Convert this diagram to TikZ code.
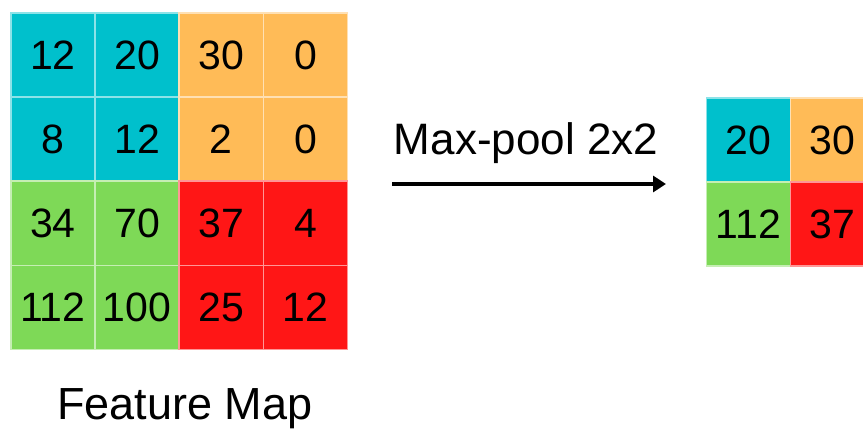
\documentclass[tikz,border=0pt]{standalone}
\usepackage{fontspec}
\setmainfont{Liberation Sans}
\usetikzlibrary{arrows.meta}
\definecolor{cyanc}{RGB}{0,192,204}
\definecolor{orangec}{RGB}{255,187,87}
\definecolor{greenc}{RGB}{126,217,87}
\definecolor{redc}{RGB}{255,22,22}
\tikzset{
  cell/.style={rectangle, minimum width=84.2pt, minimum height=84.2pt, inner sep=0pt, anchor=north west, line width=1.6pt, font=\fontsize{41}{41}\selectfont},
  cc/.style={cell, fill=cyanc, draw=cyanc!45!white},
  oc/.style={cell, fill=orangec, draw=orangec!45!white},
  gc/.style={cell, fill=greenc, draw=greenc!45!white},
  rc/.style={cell, fill=redc, draw=redc!45!white},
  lbl/.style={inner sep=0pt},
  arr/.style={line width=3.2pt, -{Triangle[length=13pt,width=16pt]}}
}
\begin{document}
\begin{tikzpicture}[x=1pt,y=-1pt]
\useasboundingbox (0,0) rectangle (863,430);
% left feature map
\node[cc] (a11) at (10,12) {12};
\node[cc] (a12) at (94.2,12) {20};
\node[oc] (a13) at (178.4,12) {30};
\node[oc] (a14) at (262.6,12) {0};
\node[cc] (a21) at (10,96.2) {8};
\node[cc] (a22) at (94.2,96.2) {12};
\node[oc] (a23) at (178.4,96.2) {2};
\node[oc] (a24) at (262.6,96.2) {0};
\node[gc] (a31) at (10,180.4) {34};
\node[gc] (a32) at (94.2,180.4) {70};
\node[rc] (a33) at (178.4,180.4) {37};
\node[rc] (a34) at (262.6,180.4) {4};
\node[gc] (a41) at (10,264.6) {112};
\node[gc] (a42) at (94.2,264.6) {100};
\node[rc] (a43) at (178.4,264.6) {25};
\node[rc] (a44) at (262.6,264.6) {12};
% pooled output
\node[cc] (b11) at (705.5,97) {20};
\node[oc] (b12) at (789.7,97) {30};
\node[gc] (b21) at (705.5,181.2) {112};
\node[rc] (b22) at (789.7,181.2) {37};
% labels
\node[lbl, font=\fontsize{44}{44}\selectfont] (mp) at (526,143) {Max-pool 2x2};
\node[lbl, font=\fontsize{45}{45}\selectfont] (fm) at (185,409) {Feature Map};
% arrow
\coordinate (as) at (392,184);
\coordinate (ae) at (666,184);
\draw[arr] (as) -- (ae);
\end{tikzpicture}
\end{document}
